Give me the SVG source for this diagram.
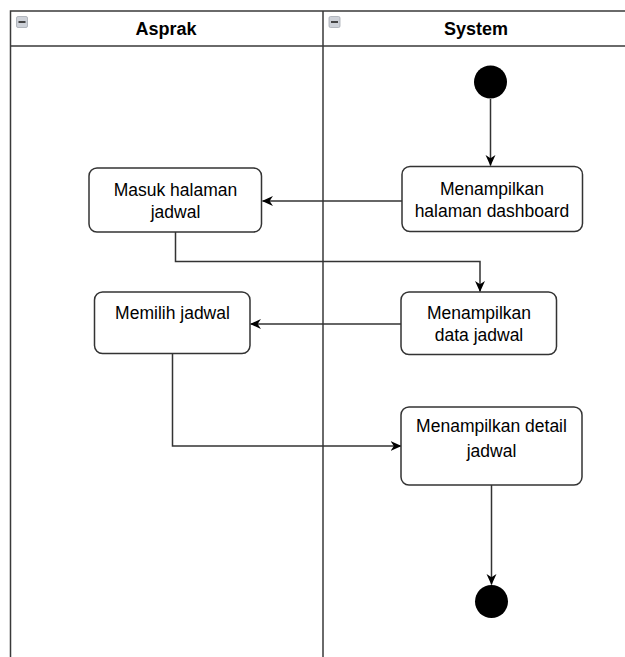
<svg xmlns="http://www.w3.org/2000/svg" width="625" height="657" viewBox="0 0 625 657">
  <style>
    .lane { fill: none; stroke: #3a3a3a; stroke-width: 1.5; }
    .head { font-family: "Liberation Sans", Arial, sans-serif; font-size: 18px; font-weight: bold; fill: #000; text-anchor: middle; }
    .act rect { fill: #fff; stroke: #333; stroke-width: 1.5; }
    .act text { font-family: "Liberation Sans", Arial, sans-serif; font-size: 17.5px; fill: #000; text-anchor: middle; }
    .edge { fill: none; stroke: #333; stroke-width: 1.5; }
    .dot { fill: #000; }
  </style>
  <defs>
    <marker id="arrow" viewBox="0 0 10 10" refX="9.5" refY="5" markerWidth="11" markerHeight="11" markerUnits="userSpaceOnUse" orient="auto">
      <path d="M0,0.5 L10,5 L0,9.5 L3,5 Z" fill="#000"/>
    </marker>
    <g id="collapse">
      <rect x="0" y="0" width="11" height="11" rx="1.5" fill="#cdd1d8" stroke="#a4a9b2" stroke-width="0.8"/>
      <rect x="2" y="4.5" width="7" height="2" fill="#444"/>
    </g>
  </defs>

  <rect width="625" height="657" fill="#fff"/>

  <!-- swimlanes -->
  <g id="lanes">
    <path class="lane" d="M10.5,660 V11 H630 M10.5,46 H630 M323,11 V660"/>
    <use href="#collapse" x="16.5" y="16.5"/>
    <use href="#collapse" x="329" y="16.5"/>
    <text class="head" x="166" y="35">Asprak</text>
    <text class="head" x="476" y="35">System</text>
  </g>

  <!-- flow connectors -->
  <g id="connectors">
    <path class="edge" d="M490.5,99 V165.5" marker-end="url(#arrow)"/>
    <path class="edge" d="M402,201 H262.5" marker-end="url(#arrow)"/>
    <path class="edge" d="M175.5,232 V261.5 H480 V291.5" marker-end="url(#arrow)"/>
    <path class="edge" d="M401,324 H250.5" marker-end="url(#arrow)"/>
    <path class="edge" d="M172.5,353 V446 H401" marker-end="url(#arrow)"/>
    <path class="edge" d="M491.5,485 V584.5" marker-end="url(#arrow)"/>
  </g>

  <!-- start -->
  <g id="start">
    <circle class="dot" cx="490.5" cy="82" r="16.5"/>
  </g>

  <g id="dashboard" class="act">
    <rect x="402" y="166.5" width="180.5" height="65" rx="8"/>
    <text x="492" y="194.5">Menampilkan</text>
    <text x="492" y="216.5">halaman dashboard</text>
  </g>

  <g id="masuk" class="act">
    <rect x="89" y="168" width="172.5" height="64" rx="8"/>
    <text x="175.5" y="195.5">Masuk halaman</text>
    <text x="175.5" y="217.5">jadwal</text>
  </g>

  <g id="data-jadwal" class="act">
    <rect x="401" y="292" width="155.5" height="62.5" rx="8"/>
    <text x="479" y="319">Menampilkan</text>
    <text x="479" y="341">data jadwal</text>
  </g>

  <g id="memilih" class="act">
    <rect x="94.5" y="292" width="155.5" height="61.5" rx="8"/>
    <text x="172.5" y="319">Memilih jadwal</text>
  </g>

  <g id="detail" class="act">
    <rect x="401" y="407" width="181" height="78" rx="8"/>
    <text x="491.5" y="432">Menampilkan detail</text>
    <text x="491.5" y="457">jadwal</text>
  </g>

  <!-- end -->
  <g id="end">
    <circle class="dot" cx="491.5" cy="601.5" r="16.5"/>
  </g>
</svg>
